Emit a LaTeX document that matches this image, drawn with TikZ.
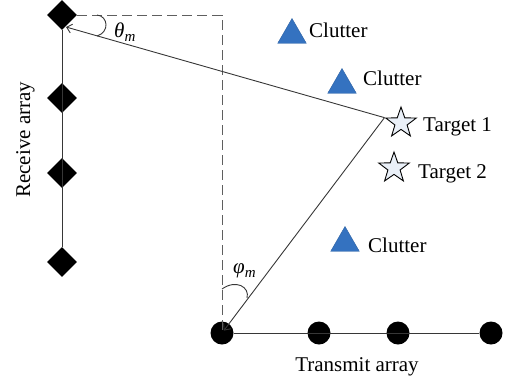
\documentclass[tikz,border=0pt]{standalone}
\usepackage{fontspec}
\setmainfont{Liberation Serif}
\usetikzlibrary{shapes.geometric, arrows.meta}
\definecolor{clutblue}{RGB}{52,114,192}
\definecolor{tgtfill}{RGB}{234,240,248}
\definecolor{linegray}{RGB}{55,55,55}
\definecolor{dashgray}{RGB}{95,95,95}
\newcommand{\angsym}[2]{\textit{#1}\raisebox{-4pt}{\fontsize{15}{15}\selectfont\textit{#2}}}

\begin{document}
\begin{tikzpicture}[
    x=1pt, y=-1pt,
    lbl/.style={font=\fontsize{21}{25}\selectfont, inner sep=0pt},
    rxel/.style={diamond, fill=black, minimum size=30pt, inner sep=0pt},
    txel/.style={circle, fill=black, minimum size=23pt, inner sep=0pt},
    tgt/.style={star, star points=5, star point ratio=2.5, draw=black,
                fill=tgtfill, line width=0.9pt, minimum size=32pt, inner sep=0pt},
    clut/.style={regular polygon, regular polygon sides=3, minimum size=33pt,
                 inner sep=0pt, fill=clutblue, draw=clutblue!85!black, line width=0.4pt},
    ln/.style={line width=0.9pt, linegray},
    arr/.style={ln, -{Straight Barb[length=5pt, width=9pt]}},
    dsh/.style={line width=0.9pt, dashgray, dash pattern=on 10pt off 5pt}
  ]
    \useasboundingbox (0,0) rectangle (505,381);

    % Receive array
    \node[rxel] (rx1) at (62,15)  {};
    \node[rxel] (rx2) at (62,98)  {};
    \node[rxel] (rx3) at (62,173) {};
    \node[rxel] (rx4) at (62,262) {};
    \draw[ln] (rx1) -- (rx4);
    \node[lbl, rotate=90, anchor=base west] (rxlbl) at (30,198) {Receive array};

    % Transmit array
    \node[txel] (tx1) at (222,333) {};
    \node[txel] (tx2) at (319,333) {};
    \node[txel] (tx3) at (398,333) {};
    \node[txel] (tx4) at (491,333) {};
    \draw[ln] (tx1) -- (tx4);
    \node[lbl, anchor=base] (txlbl) at (357,371) {Transmit array};

    % Targets
    \node[tgt] (tgt1) at (401,123) {};
    \node[tgt] (tgt2) at (394,168) {};
    \node[lbl, anchor=base west] (tgt1lbl) at (423,131) {Target 1};
    \node[lbl, anchor=base west] (tgt2lbl) at (418,178) {Target 2};

    % Clutter
    \node[clut] (clt1) at (292,35)  {};
    \node[clut] (clt2) at (342,85)  {};
    \node[clut] (clt3) at (345,243) {};
    \node[lbl, anchor=base west] (clt1lbl) at (309,37)  {Clutter};
    \node[lbl, anchor=base west] (clt2lbl) at (363,85)  {Clutter};
    \node[lbl, anchor=base west] (clt3lbl) at (368,252) {Clutter};

    % Reference directions
    \draw[dsh] (rx1.east) -| (tx1.center);

    % Paths from target 1
    \coordinate (rxhit) at (66,27);
    \draw[arr] (tgt1.outer point 2) -- (rxhit);
    \draw[arr, shorten >=3pt] (tgt1.outer point 2) -- (tx1.center);

    % Angles
    \draw[ln] (97,15) .. controls (108,16) and (110,32) .. (97,36);
    \node[lbl, anchor=base west] (theta) at (114,37) {\angsym{θ}{m}};
    \draw[ln] (222,289) .. controls (236,279) and (250,287) .. (247,298);
    \node[lbl, anchor=base west] (phi) at (233,273) {\angsym{φ}{m}};

  \end{tikzpicture}
\end{document}
